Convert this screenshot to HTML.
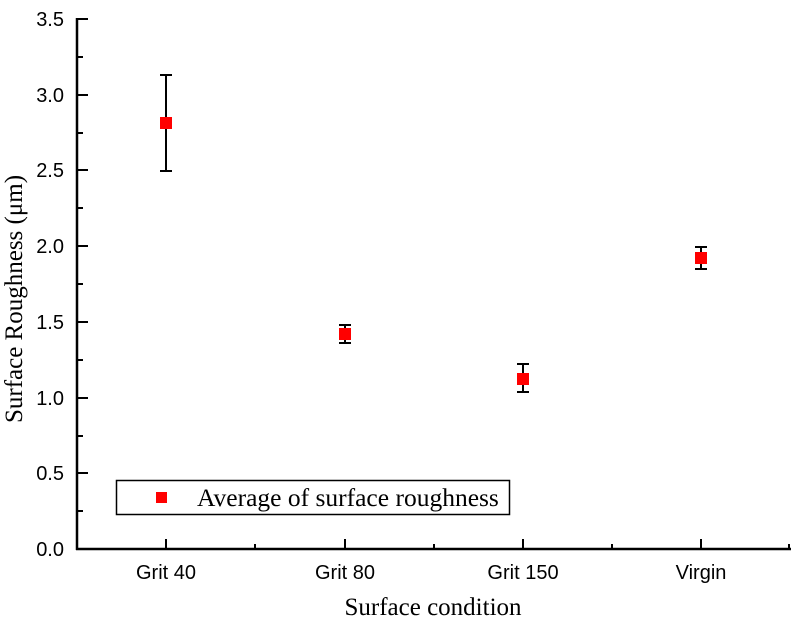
<!DOCTYPE html>
<html><head><style>body{margin:0;background:#fff}</style></head><body>
<svg width="792" height="619" xmlns="http://www.w3.org/2000/svg">
<g stroke="#000" stroke-width="2.5" fill="none">
<line x1="77" y1="18" x2="77" y2="550"/>
<line x1="76" y1="549" x2="791" y2="549"/>
</g>
<g stroke="#000" stroke-width="2">
<line x1="77" y1="19" x2="88" y2="19"/><line x1="77" y1="57" x2="83" y2="57"/>
<line x1="77" y1="95" x2="88" y2="95"/><line x1="77" y1="133" x2="83" y2="133"/>
<line x1="77" y1="170" x2="88" y2="170"/><line x1="77" y1="208" x2="83" y2="208"/>
<line x1="77" y1="246" x2="88" y2="246"/><line x1="77" y1="284" x2="83" y2="284"/>
<line x1="77" y1="322" x2="88" y2="322"/><line x1="77" y1="360" x2="83" y2="360"/>
<line x1="77" y1="398" x2="88" y2="398"/><line x1="77" y1="436" x2="83" y2="436"/>
<line x1="77" y1="473" x2="88" y2="473"/><line x1="77" y1="511" x2="83" y2="511"/>
<line x1="166" y1="549" x2="166" y2="539"/><line x1="345" y1="549" x2="345" y2="539"/>
<line x1="523" y1="549" x2="523" y2="539"/><line x1="701" y1="549" x2="701" y2="539"/>
<line x1="255" y1="549" x2="255" y2="544"/><line x1="434" y1="549" x2="434" y2="544"/>
<line x1="612" y1="549" x2="612" y2="544"/><line x1="789" y1="549" x2="789" y2="544"/>
</g>
<g font-family="Liberation Sans, sans-serif" font-size="20" text-anchor="end" fill="#000">
<text x="64" y="26">3.5</text><text x="64" y="102">3.0</text><text x="64" y="177">2.5</text>
<text x="64" y="253">2.0</text><text x="64" y="329">1.5</text><text x="64" y="405">1.0</text>
<text x="64" y="480">0.5</text><text x="64" y="556">0.0</text>
</g>
<g font-family="Liberation Sans, sans-serif" font-size="20" text-anchor="middle">
<text x="166" y="579">Grit 40</text><text x="345" y="579">Grit 80</text>
<text x="523" y="579">Grit 150</text><text x="701" y="579">Virgin</text>
</g>
<text x="433" y="615" font-family="Liberation Serif, serif" font-size="25" text-anchor="middle">Surface condition</text>
<text transform="translate(22,299) rotate(-90)" font-family="Liberation Serif, serif" font-size="25" text-anchor="middle">Surface Roughness (μm)</text>
<g stroke="#000" stroke-width="2">
<line x1="166" y1="75" x2="166" y2="171"/><line x1="160" y1="75" x2="172" y2="75"/><line x1="160" y1="171" x2="172" y2="171"/>
<line x1="345" y1="325" x2="345" y2="343"/><line x1="339" y1="325" x2="351" y2="325"/><line x1="339" y1="343" x2="351" y2="343"/>
<line x1="523" y1="364" x2="523" y2="392"/><line x1="517" y1="364" x2="529" y2="364"/><line x1="517" y1="392" x2="529" y2="392"/>
<line x1="701" y1="247" x2="701" y2="269"/><line x1="695" y1="247" x2="707" y2="247"/><line x1="695" y1="269" x2="707" y2="269"/>
</g>
<g fill="#f00">
<rect x="160" y="117" width="12" height="12"/>
<rect x="339" y="328" width="12" height="12"/>
<rect x="517" y="373" width="12" height="12"/>
<rect x="695" y="252" width="12" height="12"/>
</g>
<rect x="116.5" y="480.5" width="393" height="34" fill="#fff" stroke="#000" stroke-width="1.5"/>
<rect x="156" y="492" width="11" height="11" fill="#f00"/>
<text x="197" y="506" font-family="Liberation Serif, serif" font-size="25.5">Average of surface roughness</text>
</svg>
</body></html>
